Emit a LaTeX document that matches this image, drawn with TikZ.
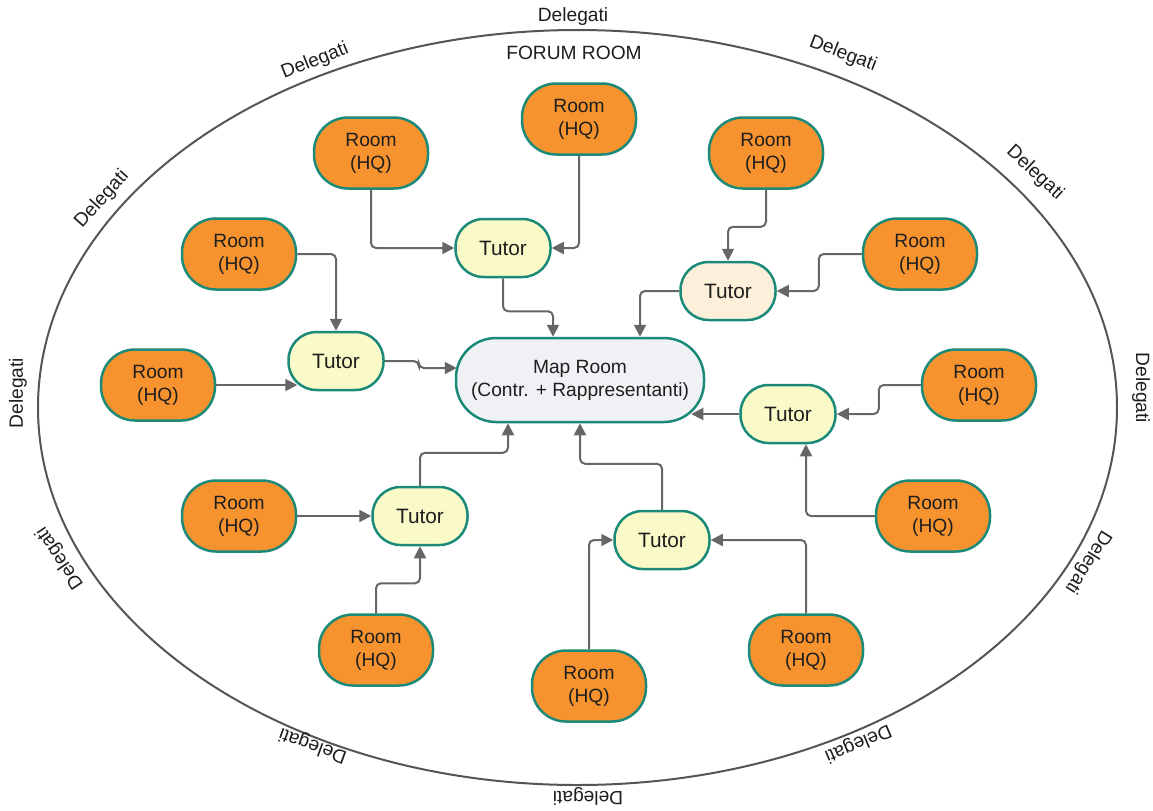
\documentclass[tikz,border=0pt]{standalone}
\usepackage{fontspec}
\setmainfont{Liberation Sans}
\usetikzlibrary{arrows.meta,positioning,calc}
\definecolor{roomorange}{HTML}{F7932F}
\definecolor{edgeteal}{HTML}{1C8A78}
\definecolor{tutoryellow}{HTML}{FAFAC9}
\definecolor{tutorpeach}{HTML}{FDF0DA}
\definecolor{mapgray}{HTML}{F0F1F4}
\definecolor{linkgray}{HTML}{666666}
\definecolor{rimgray}{HTML}{555555}
\definecolor{txt}{HTML}{1E1E1E}
\tikzset{
	roombox/.style={rectangle, draw=edgeteal, line width=1.25pt, rounded corners=17pt, fill=roomorange,
		minimum width=57pt, minimum height=35.5pt, align=center, inner sep=1pt, text=txt,
		font=\fontsize{9.6}{11.5}\selectfont},
	tutorbox/.style={rectangle, draw=edgeteal, line width=1.25pt, rounded corners=14pt, fill=tutoryellow,
		minimum width=47.5pt, minimum height=29pt, align=center, inner sep=1pt, text=txt,
		font=\fontsize{10.4}{12}\selectfont},
	mapbox/.style={rectangle, draw=edgeteal, line width=1.25pt, rounded corners=20pt, fill=mapgray,
		minimum width=124pt, minimum height=42pt, align=center, inner sep=1pt, text=txt,
		font=\fontsize{9.6}{11.5}\selectfont},
	deleg/.style={font=\fontsize{9.6}{11.5}\selectfont, text=txt, inner sep=1pt},
	linkarr/.style={-{Triangle[length=6pt,width=6pt]}, draw=linkgray, line width=1pt, rounded corners=2.5pt}
}

\begin{document}
\begin{tikzpicture}[x=0.5pt, y=-0.5pt]
	\useasboundingbox (0,0) rectangle (1153,810);
	% forum room outline
	\draw[rimgray, line width=1pt] (577.5,407.5) ellipse [x radius=539.5, y radius=377.5];
	\node[deleg] (forum) at (574,53) {FORUM ROOM};
	% delegati all round the rim
	\node[deleg] (del1) at (573,17) {Delegati};
	\node[deleg, rotate=-21] (del2) at (843,54) {Delegati};
	\node[deleg, rotate=-43] (del3) at (1035,173) {Delegati};
	\node[deleg, rotate=-90] (del4) at (1141,388) {Delegati};
	\node[deleg, rotate=238] (del5) at (1088,562) {Delegati};
	\node[deleg, rotate=203] (del6) at (858,743) {Delegati};
	\node[deleg, rotate=180] (del7) at (588,796) {Delegati};
	\node[deleg, rotate=160] (del8) at (313,745) {Delegati};
	\node[deleg, rotate=124] (del9) at (60,558) {Delegati};
	\node[deleg, rotate=90] (del10) at (18,393) {Delegati};
	\node[deleg, rotate=48] (del11) at (102,199) {Delegati};
	\node[deleg, rotate=22] (del12) at (315,61) {Delegati};

	% centre
	\node[mapbox] (map) at (580,380) {Map Room\\(Contr. + Rappresentanti)};

	% tutors
	\node[tutorbox] (t1) at (503,248) {Tutor};
	\node[tutorbox, fill=tutorpeach] (t2) at (728,291) {Tutor};
	\node[tutorbox] (t3) at (336,361) {Tutor};
	\node[tutorbox] (t4) at (788,414) {Tutor};
	\node[tutorbox] (t5) at (420,516) {Tutor};
	\node[tutorbox] (t6) at (662,540) {Tutor};

	% rooms
	\node[roombox] (r1) at (371,153) {Room\\(HQ)};
	\node[roombox] (r2) at (579,119) {Room\\(HQ)};
	\node[roombox] (r3) at (766,153) {Room\\(HQ)};
	\node[roombox] (r4) at (239,254) {Room\\(HQ)};
	\node[roombox] (r5) at (920,254) {Room\\(HQ)};
	\node[roombox] (r6) at (158,385) {Room\\(HQ)};
	\node[roombox] (r7) at (979,385) {Room\\(HQ)};
	\node[roombox] (r8) at (239,516) {Room\\(HQ)};
	\node[roombox] (r9) at (933,516) {Room\\(HQ)};
	\node[roombox] (r10) at (376,650) {Room\\(HQ)};
	\node[roombox] (r11) at (806,650) {Room\\(HQ)};
	\node[roombox] (r12) at (589,686) {Room\\(HQ)};

	% rooms to tutors
	\draw[linkarr] (r1.south) |- (t1.west);
	\draw[linkarr] (r2.south) |- (t1.east);
	\draw[linkarr] (r3.south) -- ++(0,37) -| (t2.north);
	\draw[linkarr] (r5.west) -- ++(-43,0) |- (t2.east);
	\draw[linkarr] (r4.east) -| (t3.north);
	\draw[linkarr] (r6.east) -- ($(t3.west)+(10,24)$);
	\draw[linkarr] (r7.west) -- ++(-42,0) |- (t4.east);
	\draw[linkarr] (r9.west) -| ($(t4.south)+(18,0)$);
	\draw[linkarr] (r8.east) -- (t5.west);
	\draw[linkarr] (r10.north) -- ++(0,-30) -| (t5.south);
	\draw[linkarr] (r12.north) |- (t6.west);
	\draw[linkarr] (r11.north) |- (t6.east);

	% tutors to map room
	\draw[linkarr] (t1.south) -- ++(0,33) -| ($(map.north)+(-27,0)$);
	\draw[linkarr] (t2.west) -| ($(map.north)+(60,0)$);
	\draw[linkarr] (t3.east) -- ++(34,0) |- ($(map.west)+(2,-12)$);
	\draw[linkarr] (t4.west) -- ($(map.east)+(-14,34)$);
	\draw[linkarr] (t5.north) -- ++(0,-33) -| ($(map.south)+(-72,0)$);
	\draw[linkarr] (t6.north) -- ++(0,-46) -| (map.south);
\end{tikzpicture}
\end{document}
